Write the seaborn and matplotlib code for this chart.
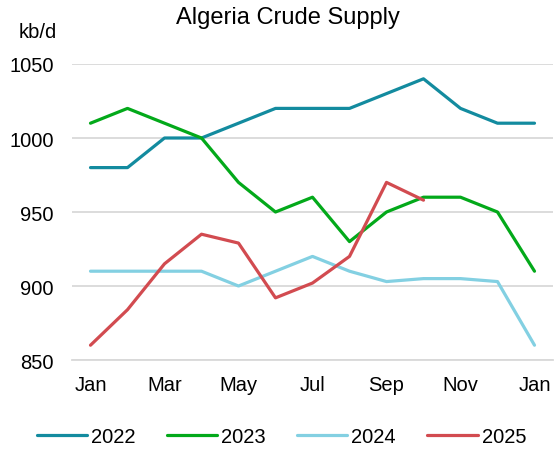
import matplotlib
matplotlib.use("Agg")
import matplotlib.pyplot as plt
import seaborn as sns
import pandas as pd
import numpy as np

months = ["Jan", "Feb", "Mar", "Apr", "May", "Jun", "Jul", "Aug", "Sep", "Oct", "Nov", "Dec", "Jan"]
tick_labels = ["Jan", "Mar", "May", "Jul", "Sep", "Nov", "Jan"]
s2022 = [980, 980, 1000, 1000, 1010, 1020, 1020, 1020, 1030, 1040, 1020, 1010, 1010]
s2023 = [1010, 1020, 1010, 1000, 970, 950, 960, 930, 950, 960, 960, 950, 910]
s2024 = [910, 910, 910, 910, 900, 910, 920, 910, 903, 905, 905, 903, 860]
s2025 = [860, 884, 915, 935, 929, 892, 902, 920, 970, 958]
years = ["2022", "2023", "2024", "2025"]
colors = ["#138b9f", "#03a91a", "#83d0e2", "#d24b50"]

rows = []
for yr, vals in zip(years, [s2022, s2023, s2024, s2025]):
    for i, v in enumerate(vals):
        rows.append({"idx": i, "value": v, "year": yr})
df = pd.DataFrame(rows)

sns.set_theme(style="white")
plt.rcParams["font.family"] = ["Liberation Sans", "DejaVu Sans"]
plt.rcParams["text.color"] = "black"

FS = 14.5
fig = plt.figure(figsize=(5.56, 4.52), dpi=100)
ax = fig.add_axes([0.1295, 0.2013, 0.8651, 0.6549])

sns.lineplot(data=df, x="idx", y="value", hue="year", palette=dict(zip(years, colors)),
             linewidth=2.3, ax=ax, legend=True)

ax.set_ylim(850, 1050)
ax.set_xlim(-0.5, 12.5)
ax.set_yticks([850, 900, 950, 1000, 1050])
ax.tick_params(axis="y", labelsize=FS, length=0, pad=13, labelcolor="black")
ax.grid(axis="y", color="#d9d9d9", linewidth=1.3)
ax.set_axisbelow(True)

ax.set_xticks(np.arange(-0.5, 13, 1))
ax.set_xticklabels([])
ax.set_xticks(np.arange(0, 13, 2), minor=True)
ax.set_xticklabels(tick_labels, minor=True)
ax.tick_params(axis="x", which="major", length=5, width=1.3, color="#d9d9d9", direction="out")
ax.tick_params(axis="x", which="minor", length=0, pad=11, labelsize=FS, labelcolor="black")

for sp in ["left", "right", "top"]:
    ax.spines[sp].set_visible(False)
ax.spines["bottom"].set_color("#d9d9d9")
ax.spines["bottom"].set_linewidth(1.3)

ax.set_xlabel("")
ax.set_ylabel("")

fig.text(0.518, 0.96, "Algeria Crude Supply", ha="center", va="center", fontsize=17, color="black")
fig.text(0.068, 0.929, "kb/d", ha="center", va="center", fontsize=FS, color="black")

h, l = ax.get_legend_handles_labels()
leg = ax.legend(h, l, loc="center", bbox_to_anchor=(0.506, 0.033), bbox_transform=fig.transFigure,
                ncol=4, frameon=False, fontsize=FS, handlelength=2.5, columnspacing=1.55,
                handletextpad=0.2)
for t in leg.get_texts():
    t.set_color("black")

fig.savefig("out.png", dpi=100)
